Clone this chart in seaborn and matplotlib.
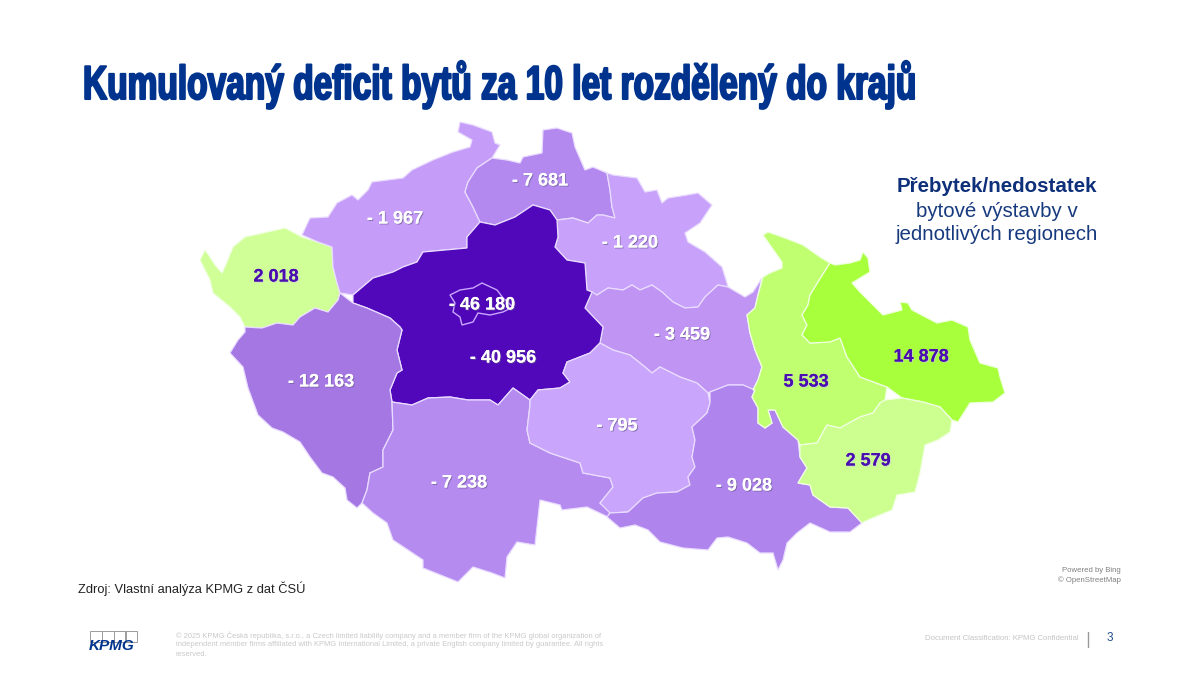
import numpy as np
import seaborn as sns
import matplotlib.pyplot as plt
import matplotlib.patheffects as pe
from matplotlib.patches import Rectangle
from matplotlib.transforms import Affine2D

sns.set_theme(style="white")
plt.rcParams['font.family'] = ['Liberation Sans', 'DejaVu Sans']

# hodnoty z mapy (prebytek / nedostatek bytu)
region_names = ["Karlovarský", "Ústecký", "Liberecký", "Královéhradecký", "Pardubický",
                "Středočeský", "Praha", "Plzeňský", "Jihočeský", "Vysočina",
                "Jihomoravský", "Olomoucký", "Moravskoslezský", "Zlínský"]
region_values = [2018, -1967, -7681, -1220, -3459,
                 -40956, -46180, -12163, -7238, -795,
                 -9028, 5533, 14878, 2579]
region_labels = ["2 018", "- 1 967", "- 7 681", "- 1 220", "- 3 459",
                 "- 40 956", "- 46 180", "- 12 163", "- 7 238", "- 795",
                 "- 9 028", "5 533", "14 878", "2 579"]
label_x = [276, 395, 540, 630, 682, 503, 482, 321, 459, 617, 744, 806, 921, 868]
label_y = [277, 219, 181, 243, 335, 358, 305, 382, 483, 426, 486, 382, 357, 461]

# obrysy kraju v pixelech obrazku
karlovy_vary = [(200, 260), (205, 250), (210, 257), (215, 265), (222, 273), (227, 262), (233, 247),
                (245, 237), (263, 233), (285, 228), (302, 237), (318, 242), (332, 247), (333, 267),
                (337, 283), (340, 293), (338, 300), (328, 312), (315, 308), (300, 317), (293, 325),
                (277, 323), (262, 328), (245, 327), (240, 317), (230, 307), (213, 293), (210, 280)]
usti = [(302, 235), (310, 218), (328, 217), (337, 203), (352, 195), (358, 200), (368, 190), (372, 182),
        (403, 178), (412, 170), (433, 160), (453, 152), (470, 147), (472, 140), (458, 132), (460, 122),
        (473, 125), (492, 132), (495, 143), (500, 145), (492, 158), (477, 168), (468, 182), (465, 192),
        (473, 207), (480, 222), (467, 237), (467, 248), (423, 252), (417, 262), (403, 267), (393, 272),
        (373, 278), (353, 295), (340, 293), (337, 283), (333, 267), (332, 247), (318, 242)]
liberec = [(492, 158), (507, 160), (520, 163), (523, 157), (542, 153), (543, 130), (557, 128), (572, 133),
           (575, 147), (585, 170), (593, 167), (607, 173), (610, 190), (612, 207), (615, 218), (603, 215),
           (597, 215), (588, 223), (573, 218), (557, 220), (550, 210), (533, 205), (515, 217), (495, 225),
           (480, 222), (473, 207), (465, 192), (468, 182), (477, 168)]
hradec = [(557, 220), (573, 218), (588, 223), (597, 215), (603, 215), (615, 218), (612, 207), (610, 190),
          (607, 173), (613, 175), (637, 178), (645, 192), (657, 190), (662, 203), (668, 198), (687, 195),
          (698, 193), (712, 205), (700, 223), (685, 233), (688, 242), (705, 252), (722, 267), (727, 283),
          (728, 287), (718, 285), (705, 297), (698, 307), (685, 308), (673, 302), (662, 292), (652, 285),
          (640, 290), (632, 285), (623, 290), (608, 288), (597, 295), (590, 298), (592, 292), (587, 290),
          (585, 263), (567, 260), (555, 247), (558, 237)]
pardubice = [(592, 292), (597, 295), (608, 288), (623, 290), (632, 285), (640, 290), (652, 285), (662, 292),
             (673, 302), (685, 308), (698, 307), (705, 297), (718, 285), (728, 287), (745, 297), (753, 292),
             (762, 278), (758, 295), (755, 308), (747, 315), (750, 333), (755, 350), (762, 367), (758, 380),
             (753, 390), (743, 385), (728, 385), (710, 392), (708, 393), (697, 383), (680, 377), (660, 367),
             (652, 373), (645, 367), (630, 355), (613, 350), (600, 343), (603, 327), (585, 308)]
stredocesky = [(353, 295), (373, 278), (393, 272), (403, 267), (417, 262), (423, 252), (467, 248), (467, 237),
               (480, 222), (495, 225), (515, 217), (533, 205), (550, 210), (557, 220), (558, 237), (555, 247),
               (567, 260), (585, 263), (587, 290), (592, 292), (585, 308), (603, 327), (600, 343), (590, 353),
               (567, 362), (563, 373), (570, 382), (560, 388), (538, 390), (530, 400), (513, 388), (498, 405),
               (490, 400), (468, 400), (450, 397), (428, 398), (412, 405), (392, 402), (390, 390), (397, 373),
               (402, 370), (397, 350), (402, 330), (400, 327), (390, 318), (367, 308), (353, 303)]
praha = [(450, 295), (460, 290), (473, 288), (482, 283), (497, 290), (503, 298), (513, 307), (503, 312),
         (490, 315), (478, 313), (473, 322), (462, 325), (460, 317), (453, 312), (455, 303)]
plzen = [(245, 327), (262, 328), (277, 323), (293, 325), (300, 317), (315, 308), (328, 312), (338, 300),
         (340, 293), (353, 303), (367, 308), (390, 318), (400, 327), (402, 330), (397, 350), (402, 370),
         (397, 373), (390, 390), (392, 402), (393, 430), (383, 450), (383, 467), (370, 473), (367, 490),
         (362, 503), (357, 508), (347, 500), (345, 488), (333, 477), (322, 473), (310, 457), (300, 442),
         (283, 432), (272, 428), (258, 415), (248, 388), (243, 367), (230, 353), (238, 340), (245, 332)]
budejovice = [(392, 402), (412, 405), (428, 398), (450, 397), (468, 400), (490, 400), (498, 405), (513, 388),
              (530, 400), (530, 405), (527, 430), (530, 443), (550, 453), (580, 463), (583, 473), (610, 478),
              (613, 487), (600, 503), (610, 512), (608, 517), (587, 507), (562, 510), (560, 505), (540, 500),
              (537, 527), (535, 545), (517, 542), (507, 557), (505, 578), (492, 573), (473, 567), (458, 582),
              (423, 568), (423, 560), (393, 540), (387, 523), (373, 513), (362, 503), (367, 490), (370, 473),
              (383, 467), (383, 450), (393, 430)]
vysocina = [(530, 400), (538, 390), (560, 388), (570, 382), (563, 373), (567, 362), (590, 353), (600, 343),
            (613, 350), (630, 355), (645, 367), (652, 373), (660, 367), (680, 377), (697, 383), (708, 393),
            (710, 403), (707, 413), (692, 427), (695, 440), (692, 457), (695, 467), (688, 477), (690, 485),
            (677, 492), (657, 493), (643, 498), (628, 512), (610, 513), (600, 503), (613, 487), (610, 478),
            (583, 473), (580, 463), (550, 453), (530, 443), (527, 430), (530, 405)]
brno = [(710, 392), (728, 385), (743, 385), (755, 390), (752, 397), (758, 408), (758, 423), (765, 428),
        (772, 423), (768, 410), (775, 410), (783, 427), (798, 440), (800, 457), (807, 468), (798, 483),
        (810, 485), (813, 495), (830, 507), (848, 508), (862, 523), (850, 532), (830, 532), (810, 523),
        (797, 533), (787, 543), (783, 560), (778, 570), (773, 553), (760, 553), (747, 543), (728, 537),
        (717, 538), (708, 550), (683, 548), (660, 542), (648, 530), (635, 525), (620, 528), (607, 517),
        (610, 513), (628, 512), (643, 498), (657, 493), (677, 492), (690, 485), (688, 477), (695, 467),
        (692, 457), (695, 440), (692, 427), (707, 413), (710, 403)]
olomouc = [(763, 235), (768, 232), (785, 238), (803, 245), (820, 257), (830, 263), (818, 282), (810, 295),
           (808, 305), (802, 315), (807, 325), (802, 335), (810, 343), (830, 342), (840, 338), (847, 357),
           (860, 377), (887, 387), (885, 400), (880, 403), (873, 413), (860, 417), (840, 428), (827, 425),
           (817, 443), (800, 445), (798, 440), (783, 427), (775, 410), (768, 410), (772, 423), (765, 428),
           (758, 423), (758, 408), (752, 397), (755, 390), (753, 390), (758, 380), (762, 367), (755, 350),
           (750, 333), (747, 315), (755, 308), (758, 295), (763, 277), (770, 273), (782, 268), (782, 262),
           (770, 245)]
ostrava = [(830, 263), (835, 265), (850, 263), (860, 260), (863, 252), (868, 258), (870, 272), (852, 283),
           (860, 292), (870, 302), (883, 315), (902, 310), (900, 302), (908, 303), (912, 310), (937, 323),
           (952, 320), (968, 327), (970, 340), (980, 363), (998, 368), (1000, 377), (1005, 393), (993, 402),
           (970, 403), (958, 422), (952, 420), (940, 407), (923, 402), (902, 398), (887, 387), (860, 377),
           (847, 357), (840, 338), (830, 342), (810, 343), (802, 335), (807, 325), (802, 315), (808, 305),
           (810, 295), (818, 282)]
zlin = [(800, 445), (817, 443), (827, 425), (840, 428), (860, 417), (873, 413), (880, 403), (885, 400),
        (902, 398), (923, 402), (940, 407), (952, 420), (950, 432), (938, 440), (925, 445), (920, 473),
        (915, 492), (897, 495), (892, 510), (868, 520), (862, 523), (848, 508), (830, 507), (813, 495),
        (810, 485), (798, 483), (807, 468), (800, 457)]
outlines = [karlovy_vary, usti, liberec, hradec, pardubice, stredocesky, praha, plzen,
            budejovice, vysocina, brno, olomouc, ostrava, zlin]

# barevna skala podle hodnoty
neg_stops = [-46180, -40956, -12163, -7500, -3459, -795]
neg_colors = sns.blend_palette(["#4F05B8", "#5008BA", "#A577E3", "#B48AF0", "#C094F3", "#CAA5FC"], 256)
pos_stops = [2018, 5533, 14878]
pos_colors = sns.blend_palette(["#CFFF96", "#BFFF70", "#A8FF3C"], 256)


def value_color(v):
    if v < 0:
        pos = np.interp(v, neg_stops, np.linspace(0, 255, len(neg_stops)))
        return neg_colors[int(pos)]
    pos = np.interp(v, pos_stops, np.linspace(0, 255, len(pos_stops)))
    return pos_colors[int(pos)]


# nadpis je uzky a vysoky, text se natahne svisle od uctarie
class TallText(pe.AbstractPathEffect):
    def __init__(self, factor, baseline, stroke, color):
        super().__init__()
        self.factor = factor
        self.baseline = baseline
        self.stroke = stroke
        self.color = color

    def draw_path(self, renderer, gc, tpath, affine, rgbFace=None):
        tall = affine + Affine2D().translate(0, -self.baseline).scale(1, self.factor).translate(0, self.baseline)
        gc0 = renderer.new_gc()
        gc0.copy_properties(gc)
        gc0.set_linewidth(self.stroke)
        gc0.set_foreground(self.color)
        renderer.draw_path(gc0, tpath, tall, rgbFace)
        gc0.restore()


fig = plt.figure(figsize=(12, 6.91), dpi=100)
ax = fig.add_axes([0, 0, 1, 1])
ax.set_xlim(0, 1200)
ax.set_ylim(691, 0)
ax.axis('off')

for name, value, outline in zip(region_names, region_values, outlines):
    xs, ys = zip(*outline)
    if name == "Praha":
        ax.fill(xs, ys, facecolor=value_color(value), edgecolor="#C9A6FF", linewidth=1.0, zorder=3)
    else:
        edge = "#F0FFE0" if value > 0 else "#EADCFF"
        ax.fill(xs, ys, facecolor=value_color(value), edgecolor=edge, linewidth=0.9, zorder=2)

for label, x, y, value in zip(region_labels, label_x, label_y, region_values):
    color = "#4B0FB0" if value > 0 else "white"
    shadow = "#C8C8E8" if value > 0 else "#6A5A90"
    ax.text(x, y, label, ha='center', va='center', fontsize=13, fontweight='bold', color=color, zorder=5,
            path_effects=[pe.withSimplePatchShadow(offset=(0.7, -0.7), shadow_rgbFace=shadow, alpha=0.7),
                          pe.Normal()])

# nadpis - velikost podle sirky v obrazku
title_text = "Kumulovaný deficit bytů za 10 let rozdělený do krajů"
title = ax.text(83, 99, title_text, ha='left', va='baseline', fontsize=24, fontweight='bold', color="#00338D")
fig.canvas.draw()
title_w = title.get_window_extent(fig.canvas.get_renderer()).width
title.set_fontsize(24 * 836 / title_w)
title.set_path_effects([TallText(1.42, 691 - 99, 1.5, "#00338D")])

# vysvetlivka
ax.text(997, 186, "Přebytek/nedostatek", ha='center', va='center', fontsize=14.8, fontweight='bold', color="#0E2F7A")
ax.text(997, 211, "bytové výstavby v", ha='center', va='center', fontsize=14.8, color="#173A7E")
ax.text(997, 234, "jednotlivých regionech", ha='center', va='center', fontsize=14.8, color="#173A7E")

ax.text(78, 589, "Zdroj: Vlastní analýza KPMG z dat ČSÚ", ha='left', va='center', fontsize=9.3, color="#222222")
ax.text(1121, 571, "Powered by Bing", ha='right', va='center', fontsize=5.6, color="#808080")
ax.text(1121, 580, "© OpenStreetMap", ha='right', va='center', fontsize=5.6, color="#808080")

# paticka
footer_lines = ["© 2025 KPMG Česká republika, s.r.o., a Czech limited liability company and a member firm of the KPMG global organization of",
                "independent member firms affiliated with KPMG International Limited, a private English company limited by guarantee. All rights",
                "reserved."]
for line, y in zip(footer_lines, [636, 645, 654]):
    ax.text(176, y, line, ha='left', va='center', fontsize=5.45, color="#C9C9C9")
ax.text(1079, 639, "Document Classification: KPMG Confidential", ha='right', va='center', fontsize=5.6, color="#C4C4C4")
ax.plot([1088, 1088], [632, 647], color="#9A9A9A", linewidth=1)
ax.text(1110, 638, "3", ha='center', va='center', fontsize=8.5, color="#1F4E8C")

# logo
for left in [90, 102, 114, 125]:
    ax.add_patch(Rectangle((left, 631), 11.5, 11, fill=False, edgecolor="#9C9C9C", linewidth=0.7, zorder=1))
ax.text(112, 646, "KPMG", ha='center', va='center', fontsize=11, fontweight='bold', fontstyle='italic',
        color="#00338D", zorder=2)

fig.savefig("out.png", dpi=100)
